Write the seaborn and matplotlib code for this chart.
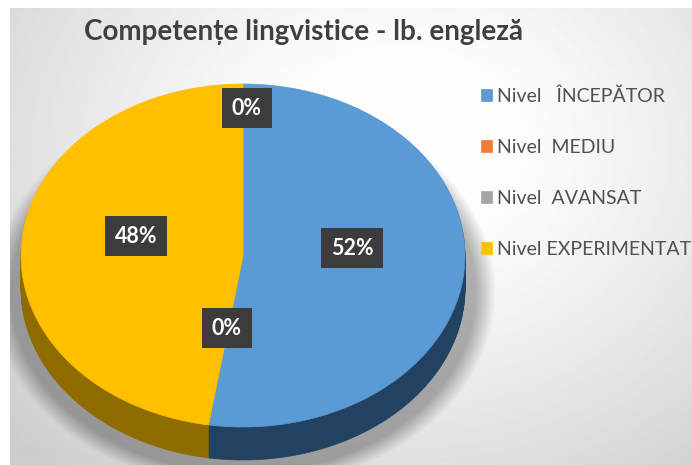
import numpy as np
import matplotlib
matplotlib.use("Agg")
import matplotlib.pyplot as plt
import seaborn as sns

title = "Competențe lingvistice - lb. engleză"
categories = ["Nivel   ÎNCEPĂTOR", "Nivel  MEDIU", "Nivel  AVANSAT", "Nivel EXPERIMENTAT"]
values = [52.49, 0, 0, 47.51]
# the two 0% labels sit where the empty slices would be
label_pos = [(352, 248), (227, 328), (247, 108), (136, 236)]
colors = ["#5b9bd5", "#ed7d31", "#a5a5a5", "#ffc000"]
side_colors = ["#234262", "#8a3f12", "#555555", "#8f6c00"]

sns.set_theme(style="white")
plt.rcParams["font.family"] = ["Lato", "DejaVu Sans"]

W, H = 692, 465
fig = plt.figure(figsize=(W / 100, H / 100), dpi=100, facecolor="white")

# background panel, soft grey gradient plus the pie shadow
bg = fig.add_axes([0, 0, 1, 1])
bg.axis("off")
yy, xx = np.mgrid[9:H, 10:W]
r = np.sqrt(((xx - 400) / 420) ** 2 + ((yy - 150) / 340) ** 2)
grey = np.clip(0.995 - 0.19 * np.clip(r - 0.25, 0, 1) ** 1.2, 0, 1)
s = np.sqrt(((xx - 243) / 232) ** 2 + ((yy - 292) / 180) ** 2)
grey = grey * (1 - 0.3 * np.clip((1.09 - s) / 0.09, 0, 1))
bg.imshow(grey, cmap="gray", vmin=0, vmax=1, extent=(10, W, H, 9), aspect="auto", zorder=0)
bg.set_xlim(0, W)
bg.set_ylim(H, 0)

# pie face ellipse in pixels
cx, cy, rx, ry = 243, 255.5, 222, 171.5
depth = 33
ax = fig.add_axes([(cx - rx) / W, 1 - (cy + ry + depth) / H, 2 * rx / W, (2 * ry + depth) / H])
ax.patch.set_alpha(0)


def draw_pie(center, cols):
    wedges, _ = ax.pie(values, colors=cols, startangle=90, counterclock=False,
                       center=center, radius=1)
    for w in wedges:
        # no white slice borders, the theme would add them
        w.set_edgecolor(w.get_facecolor())
        w.set_linewidth(0.5)
    return wedges


# side wall: the same pie stacked downwards in darker colours
for d in np.arange(depth, 0, -1.0):
    draw_pie((0, -d / ry), side_colors)
wedges = draw_pie((0, 0), colors)
ax.set_aspect("auto")
ax.set_xlim(-1, 1)
ax.set_ylim(-1 - depth / ry, 1)

# overlay for the texts
top = fig.add_axes([0, 0, 1, 1])
top.set_xlim(0, W)
top.set_ylim(H, 0)
top.axis("off")
top.patch.set_alpha(0)

top.text(303, 32, title, ha="center", va="center", fontsize=20, fontweight="bold", color="#404040")

for v, (x, y) in zip(values, label_pos):
    top.text(x, y, f"{v:.0f}%", ha="center", va="center", color="white",
             fontsize=15.5, fontweight="bold",
             bbox=dict(boxstyle="square,pad=0.45", facecolor="#3c3c3c", edgecolor="none"))

top.legend(wedges, categories, loc="upper left", bbox_to_anchor=(481 / W, 1 - 87.5 / H),
           bbox_transform=fig.transFigure, frameon=False, fontsize=14,
           labelcolor="#505050", handlelength=0.58, handleheight=0.58,
           handletextpad=0.26, labelspacing=1.74, borderpad=0, borderaxespad=0)

fig.savefig("out.png", dpi=100)
